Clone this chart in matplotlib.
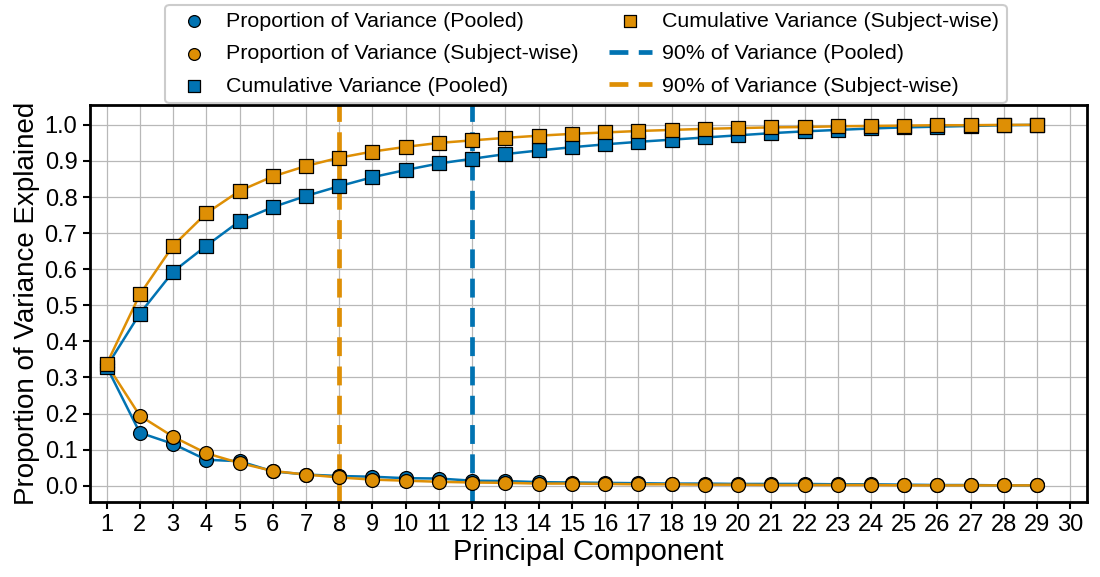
import matplotlib
matplotlib.use("Agg")
import matplotlib.pyplot as plt
import numpy as np

plt.rcParams['font.family'] = ['Liberation Sans', 'DejaVu Sans']

components = list(range(1, 30))
prop_pooled = [0.330, 0.147, 0.116, 0.072, 0.068, 0.040, 0.031, 0.027, 0.025, 0.021,
               0.020, 0.014, 0.013, 0.010, 0.009, 0.008, 0.007, 0.006, 0.006, 0.005,
               0.005, 0.005, 0.004, 0.004, 0.003, 0.002, 0.002, 0.001, 0.001]
prop_subject = [0.337, 0.194, 0.136, 0.090, 0.063, 0.041, 0.031, 0.023, 0.017, 0.014,
                0.011, 0.009, 0.008, 0.006, 0.006, 0.005, 0.004, 0.004, 0.003, 0.003,
                0.002, 0.002, 0.002, 0.002, 0.001, 0.001, 0.001, 0.001, 0.001]
cum_pooled = [0.330, 0.477, 0.593, 0.665, 0.733, 0.772, 0.803, 0.830, 0.855, 0.875,
              0.893, 0.906, 0.919, 0.929, 0.938, 0.946, 0.953, 0.959, 0.965, 0.971,
              0.977, 0.982, 0.986, 0.990, 0.993, 0.995, 0.997, 0.999, 1.000]
cum_subject = [0.337, 0.530, 0.665, 0.755, 0.817, 0.857, 0.886, 0.909, 0.926, 0.939,
               0.950, 0.957, 0.964, 0.970, 0.975, 0.979, 0.983, 0.986, 0.989, 0.991,
               0.993, 0.994, 0.996, 0.997, 0.998, 0.999, 0.999, 1.000, 1.000]
n90_pooled = 12
n90_subject = 8
xticks = list(range(1, 31))
yticks = [0.0, 0.1, 0.2, 0.3, 0.4, 0.5, 0.6, 0.7, 0.8, 0.9, 1.0]

BLUE = '#0173b2'
ORANGE = '#de8f05'

fig = plt.figure(figsize=(11, 5.77), dpi=100)
ax = fig.add_axes([0.0818, 0.130, 0.9064, 0.688])

ax.grid(True, color='#b8b8b8', linewidth=0.9, zorder=0)
ax.set_axisbelow(True)

lw = 1.8
ax.plot(components, prop_pooled, color=BLUE, lw=lw, zorder=2)
ax.plot(components, prop_subject, color=ORANGE, lw=lw, zorder=2)
ax.plot(components, cum_pooled, color=BLUE, lw=lw, zorder=2)
ax.plot(components, cum_subject, color=ORANGE, lw=lw, zorder=2)

ax.axvline(n90_pooled, color=BLUE, lw=3.4, ls=(0, (4, 2.2)), zorder=2.5,
           label='90% of Variance (Pooled)')
ax.axvline(n90_subject, color=ORANGE, lw=3.4, ls=(0, (4, 2.2)), zorder=2.5,
           label='90% of Variance (Subject-wise)')

ms = 100
kw = dict(s=ms, edgecolor='black', linewidth=0.9, zorder=3)
ax.scatter(components, prop_pooled, marker='o', color=BLUE,
           label='Proportion of Variance (Pooled)', **kw)
ax.scatter(components, prop_subject, marker='o', color=ORANGE,
           label='Proportion of Variance (Subject-wise)', **kw)
ax.scatter(components, cum_pooled, marker='s', color=BLUE,
           label='Cumulative Variance (Pooled)', **kw)
ax.scatter(components, cum_subject, marker='s', color=ORANGE,
           label='Cumulative Variance (Subject-wise)', **kw)

ax.set_xlim(0.5, 30.5)
ax.set_ylim(-0.045, 1.055)
ax.set_xticks(xticks)
ax.set_xticklabels([str(t) for t in xticks])
ax.set_yticks(yticks)
ax.set_yticklabels([f'{t:.1f}' for t in yticks])
ax.tick_params(axis='both', labelsize=17, width=1.5, length=5, direction='out', pad=4)

for s in ax.spines.values():
    s.set_linewidth(2)
    s.set_color('black')

ax.set_xlabel('Principal Component', fontsize=21, labelpad=1)
ax.set_ylabel('Proportion of Variance Explained', fontsize=20, labelpad=3)

handles, labels = ax.get_legend_handles_labels()
order = ['Proportion of Variance (Pooled)', 'Proportion of Variance (Subject-wise)',
         'Cumulative Variance (Pooled)', 'Cumulative Variance (Subject-wise)',
         '90% of Variance (Pooled)', '90% of Variance (Subject-wise)']
hd = dict(zip(labels, handles))
leg = ax.legend([hd[o] for o in order], order, loc='lower center',
                bbox_to_anchor=(0.4975, 0.978), ncol=2, fontsize=15.4,
                frameon=True, fancybox=True, edgecolor='#cccccc', framealpha=1,
                markerscale=0.85, handlelength=2.0, handletextpad=0.5,
                columnspacing=1.4, labelspacing=0.62, borderpad=0.35)
leg.get_frame().set_linewidth(1.5)

fig.savefig('out.png', dpi=100)
